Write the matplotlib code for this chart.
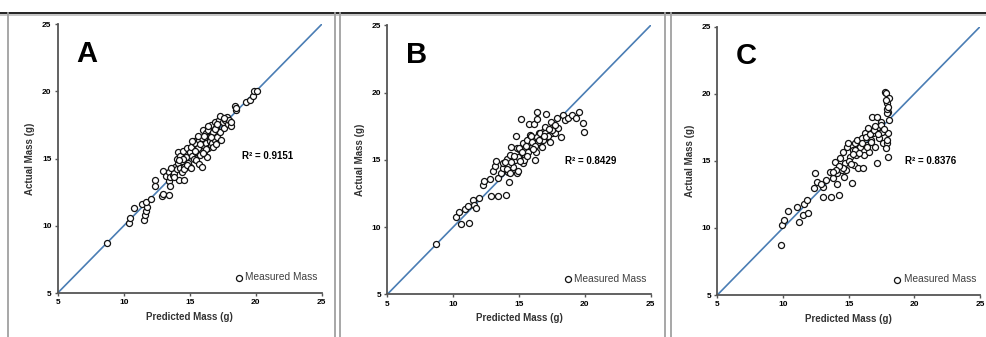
import matplotlib
matplotlib.use('Agg')
import matplotlib.pyplot as plt
from matplotlib.lines import Line2D

plt.rcParams['font.family'] = ['Liberation Sans', 'DejaVu Sans']

# panel A: predicted vs actual (g)
predA = [8.7, 10.4, 10.5, 10.8, 11.4, 11.5, 11.6, 11.7, 11.8, 11.7, 12.1, 12.4, 12.4, 12.9, 13.0,
         13.4, 13.0, 13.2, 13.4, 13.5, 13.4, 13.5, 13.7, 13.8, 13.9, 14.0, 14.1, 14.0, 14.2, 14.6,
         14.3, 14.4, 14.6, 14.1, 14.3, 14.4, 14.5, 14.6, 14.7, 14.8, 14.9, 15.0, 15.0, 15.1, 15.2,
         15.3, 15.3, 15.4, 15.5, 15.5, 15.6, 15.7, 15.7, 15.8, 15.9, 15.9, 16.0, 16.0, 16.1, 16.2,
         16.2, 16.3, 16.3, 16.4, 16.4, 16.5, 16.5, 16.6, 16.6, 16.7, 16.7, 16.8, 16.8, 16.9, 16.9,
         17.0, 17.0, 17.1, 17.2, 17.3, 17.3, 17.4, 17.5, 17.6, 17.7, 17.8, 17.9, 18.0, 18.1, 18.1,
         18.4, 18.5, 18.5, 19.3, 19.6, 19.8, 19.9, 20.1, 15.2, 15.6, 16.1, 16.4, 16.6, 16.2, 15.8,
         14.8, 14.5, 15.1, 13.8, 13.6, 14.2, 16.9, 17.6, 17.1, 16.0, 15.4]
actA = [8.7, 10.2, 10.6, 11.3, 11.6, 10.4, 10.8, 11.1, 11.4, 11.8, 12.0, 13.4, 13.0, 12.2, 12.4,
        12.3, 14.1, 13.7, 13.3, 13.0, 14.0, 13.6, 13.8, 13.9, 14.4, 14.2, 14.7, 15.0, 13.4, 13.4,
        14.3, 14.0, 14.4, 15.5, 15.2, 14.8, 15.6, 14.2, 15.1, 15.8, 14.7, 15.5, 14.4, 15.9, 15.2,
        15.0, 16.3, 16.2, 15.5, 14.9, 15.8, 16.4, 14.6, 15.3, 16.5, 14.4, 16.0, 17.1, 15.5, 16.9,
        16.2, 16.6, 15.1, 17.1, 15.8, 16.5, 16.3, 17.5, 16.0, 16.2, 16.8, 17.0, 15.9, 17.7, 16.4,
        17.3, 16.1, 16.6, 17.9, 18.2, 17.0, 16.4, 17.7, 17.3, 17.9, 18.1, 17.6, 17.9, 17.4, 17.7,
        18.9, 18.6, 18.8, 19.2, 19.4, 19.7, 20.0, 20.0, 16.3, 16.7, 16.7, 17.4, 16.6, 15.7, 16.1,
        14.5, 15.0, 14.3, 13.6, 14.3, 14.9, 17.2, 18.0, 17.6, 15.4, 15.6]

# panel B
predB = [8.67, 10.19, 10.44, 10.6, 10.9, 11.15, 11.2, 11.53, 11.6, 11.7, 11.99, 12.24, 12.34, 12.8,
         12.85, 13.0, 13.18, 13.25, 13.38, 13.43, 13.6, 13.76, 13.8, 14.01, 14.06, 14.19, 14.27,
         14.32, 14.37, 14.52, 14.7, 14.75, 14.82, 14.87, 14.95, 15.08, 15.15, 15.28, 15.33, 15.46,
         15.58, 15.71, 15.76, 15.84, 15.96, 16.09, 16.14, 16.22, 16.29, 16.34, 16.39, 16.47, 16.54,
         16.65, 16.72, 16.85, 16.97, 17.05, 17.1, 17.23, 17.35, 17.43, 17.48, 17.61, 17.73, 17.86,
         17.99, 18.16, 18.37, 18.49, 18.75, 19.0, 19.33, 19.58, 19.89, 19.96,
         14.2, 14.4, 14.6, 14.9, 15.0, 15.2, 15.4, 15.6, 15.9, 16.0, 16.2, 16.4, 16.6, 16.8, 17.0,
         17.2, 17.5, 17.7, 14.1, 13.9, 14.3, 15.1, 15.5, 16.1, 16.5, 16.9, 17.3]
actB = [8.74, 10.77, 11.1, 10.2, 11.35, 11.57, 10.33, 12.0, 11.64, 11.4, 12.19, 13.13, 13.45, 13.6,
        12.3, 14.15, 14.57, 14.94, 12.31, 13.62, 14.0, 14.37, 14.74, 12.39, 15.04, 14.12, 13.38,
        15.36, 15.98, 14.49, 14.99, 16.77, 14.0, 15.85, 15.24, 15.73, 18.04, 14.74, 16.23, 15.24,
        16.47, 15.6, 17.66, 16.85, 15.98, 16.6, 17.66, 14.99, 15.6, 18.04, 18.58, 16.35, 16.97,
        16.72, 15.98, 17.1, 17.47, 18.38, 16.72, 17.1, 16.35, 17.84, 16.97, 17.47, 16.97, 18.09,
        17.35, 16.67, 18.33, 17.96, 18.09, 18.33, 18.09, 18.53, 17.71, 17.1,
        14.6, 14.8, 15.3, 14.2, 15.9, 15.6, 15.0, 15.3, 16.8, 16.3, 16.0, 16.7, 17.0, 16.5, 17.0,
        16.8, 17.2, 17.6, 14.3, 14.8, 14.0, 14.9, 16.0, 15.8, 16.5, 16.8, 17.3]

# panel C
predC = [9.85, 9.9, 10.1, 10.36, 11.04, 11.24, 11.55, 11.6, 11.8, 11.93, 12.36, 12.44, 12.61, 13.02,
         13.07, 13.27, 13.58, 13.63, 13.78, 13.96, 14.09, 14.14, 14.26, 14.34, 14.47, 14.54, 14.64,
         14.72, 14.8, 14.9, 14.97, 15.1, 15.23, 15.3, 15.4, 15.48, 15.56, 15.66, 15.74, 15.86,
         15.99, 16.12, 16.17, 16.24, 16.37, 16.5, 16.57, 16.68, 16.75, 16.88, 17.0, 17.13, 17.18,
         17.26, 17.34, 17.44, 17.51, 17.64, 17.77, 17.84, 17.89, 17.94, 18.02, 18.02, 18.05, 18.07,
         17.89, 17.97, 17.84,
         15.0, 15.2, 15.5, 15.8, 16.0, 16.3, 16.6, 16.9, 17.2, 17.5, 14.6, 14.3, 15.3, 16.4, 16.7,
         17.0, 17.7, 17.9, 17.95, 18.0, 17.85, 14.0, 13.8, 12.9]
actC = [8.73, 10.22, 10.59, 11.26, 11.53, 10.47, 10.96, 11.78, 12.08, 11.14, 12.95, 14.12, 13.45,
        12.28, 13.02, 13.57, 14.19, 12.28, 13.7, 14.89, 14.07, 13.27, 12.45, 15.19, 14.32, 15.68,
        13.82, 14.86, 14.32, 16.06, 16.3, 15.31, 13.37, 15.81, 14.69, 16.3, 15.43, 16.55, 14.44,
        16.06, 16.67, 14.44, 15.43, 17.05, 16.18, 17.42, 15.68, 16.55, 18.24, 17.05, 16.06, 18.24,
        14.86, 17.55, 16.67, 17.92, 17.17, 16.3, 20.16, 20.03, 16.3, 19.29, 15.31, 18.66, 19.66,
        18.04, 16.55, 17.05, 15.93,
        15.0, 14.8, 15.8, 15.6, 16.3, 16.8, 17.0, 17.3, 17.0, 17.7, 14.5, 14.6, 15.5, 16.0, 16.4,
        17.6, 17.4, 18.6, 18.9, 19.0, 19.5, 14.3, 14.2, 13.3]

panels = ['A', 'B', 'C']
r2_labels = ['R² = 0.9151', 'R² = 0.8429', 'R² = 0.8376']
r2_pos = [(19.0, 15.2), (18.5, 14.9), (19.3, 15.0)]
ticks = [5, 10, 15, 20, 25]

W, H = 986, 337
fig = plt.figure(figsize=(W / 100, H / 100), dpi=100)

# pixel boxes of the three axes: left, right, top, bottom
boxes = [(57.7, 321.7, 24.3, 293.0), (387.3, 650.7, 25.3, 294.3), (717.3, 980.0, 26.7, 295.0)]
# frames round each panel (left, right in px)
frames = [(7.5, 335.0), (340.0, 665.0), (670.5, 990.0)]

fig.add_artist(Line2D([0, 1], [1 - 12.5 / H, 1 - 12.5 / H], color='#111111', lw=1.3,
                      transform=fig.transFigure))
fig.add_artist(Line2D([0, 1], [1 - 15 / H, 1 - 15 / H], color='#bbbbbb', lw=1.2,
                      transform=fig.transFigure))
for fl, fr in frames:
    for px in (fl, fr):
        fig.add_artist(Line2D([px / W, px / W], [0, 1 - 12.5 / H], color='#a0a0a0', lw=1.3,
                              transform=fig.transFigure))

data = [(predA, actA), (predB, actB), (predC, actC)]
for i, (l, r, t, b) in enumerate(boxes):
    ax = fig.add_axes([l / W, 1 - b / H, (r - l) / W, (b - t) / H])
    x, y = data[i]
    ax.plot([5, 25], [5, 25], color='#4a7db4', lw=1.2, zorder=1)
    ax.scatter(x, y, s=19, facecolors='white', edgecolors='#111111', linewidths=0.9, zorder=2,
               label='Measured Mass')
    ax.set_xlim(5, 25)
    ax.set_ylim(5, 25)
    ax.set_xticks(ticks)
    ax.set_yticks(ticks)
    for s in ('top', 'right'):
        ax.spines[s].set_visible(False)
    for s in ('left', 'bottom'):
        ax.spines[s].set_color('#555555')
        ax.spines[s].set_linewidth(1.3)
    ax.tick_params(direction='out', length=2.5, width=1.0, color='#555555', labelsize=6, pad=2)
    for lab in ax.get_xticklabels() + ax.get_yticklabels():
        lab.set_fontweight('bold')
    ax.set_xlabel('Predicted Mass (g)', fontsize=7, fontweight='bold', color='#333333', labelpad=4)
    ax.set_ylabel('Actual Mass (g)', fontsize=7, fontweight='bold', color='#333333', labelpad=5)
    ax.text(0.07, 0.89, panels[i], transform=ax.transAxes, fontsize=21, fontweight='bold',
            va='center', ha='left')
    ax.text(r2_pos[i][0], r2_pos[i][1], r2_labels[i], fontsize=7, fontweight='bold',
            va='center', ha='left')
    leg = ax.legend(loc='lower right', bbox_to_anchor=(1.0, 0.025), frameon=False, fontsize=7.3,
                    handletextpad=0.1, handlelength=1.0, borderaxespad=0, scatterpoints=1)
    for txt in leg.get_texts():
        txt.set_color('#404040')

fig.savefig('out.png', dpi=100)
